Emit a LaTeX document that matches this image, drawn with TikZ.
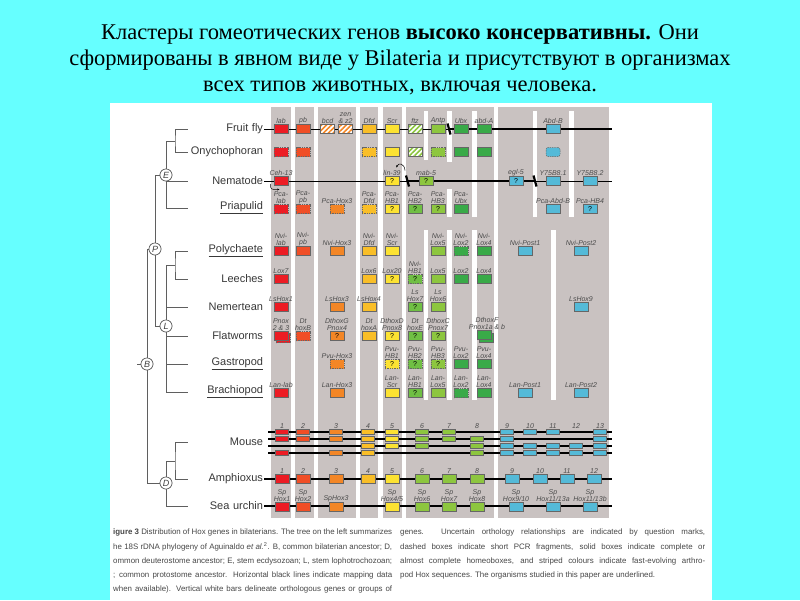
\documentclass[tikz,border=0pt]{standalone}
\usepackage{fontspec}
\setmainfont{Liberation Serif}
\setsansfont{Liberation Sans}
\usetikzlibrary{patterns.meta,arrows.meta}

\definecolor{cyanbg}{RGB}{102,255,255}
\definecolor{panel}{RGB}{201,194,193}
\definecolor{treeg}{RGB}{95,95,95}
\definecolor{hlab}{RGB}{236,28,36}
\definecolor{hpb}{RGB}{240,78,38}
\definecolor{hhox3}{RGB}{243,134,38}
\definecolor{hdfd}{RGB}{249,190,40}
\definecolor{hscr}{RGB}{252,226,50}
\definecolor{hhb}{RGB}{112,191,68}
\definecolor{hantp}{RGB}{141,198,63}
\definecolor{hubx}{RGB}{57,170,72}
\definecolor{hpost}{RGB}{84,186,216}

\begin{document}
\begin{tikzpicture}[
    x=1pt, y=-1pt,
    gbox/.style={draw=black!60, line width=0.5pt, minimum width=14pt,
                 minimum height=9pt, inner sep=0pt,
                 font=\sffamily\fontsize{7}{7}\selectfont},
    pcr/.style={gbox, dash pattern=on 1.4pt off 0.9pt},
    stripebox/.style={gbox, fill=white,
                 postaction={pattern={Lines[angle=45,distance=3.5pt,line width=1.6pt]},
                             pattern color=#1},
                 postaction={draw=black!60, line width=0.5pt}},
    mbox/.style={gbox, minimum width=13pt, minimum height=5pt},
    glab/.style={font=\sffamily\itshape\fontsize{7}{7}\selectfont,
                 align=center, inner sep=0.4pt, text=black!70},
    sp/.style={font=\sffamily\fontsize{11}{11}\selectfont, text=black!78,
               text width=74pt, align=right, inner sep=1pt},
    anc/.style={circle, draw=treeg, fill=white, line width=0.6pt, inner sep=0pt,
                minimum size=12pt, font=\sffamily\itshape\fontsize{9}{9}\selectfont,
                text=black!75},
    tree/.style={draw=treeg, line width=0.8pt},
    chrom/.style={draw=black, line width=0.7pt},
    chromb/.style={draw=black, line width=1.3pt},
    brk/.style={draw=black, line width=2.2pt},
    curv/.style={->, >={Stealth[length=2.2pt,width=2pt]}, line width=0.5pt},
    capt/.style={font=\sffamily\fontsize{7.9}{10}\selectfont, text=black!72,
                 inner sep=0pt, anchor=west}
  ]

  %% ── Canvas ──
  \useasboundingbox (0,0) rectangle (800,600);
  \fill[cyanbg] (0,0) rectangle (800,600);
  \fill[white] (110,103) rectangle (712,600);

  %% ── Title ──
  \node[font=\fontsize{22.5}{26}\selectfont, align=center, inner sep=0pt] (ttl) at (400,60)
    {Кластеры гомеотических генов \textbf{высоко консервативны.} Они\\
     сформированы в явном виде у Bilateria и присутствуют в организмах\\
     всех типов животных, включая человека.};

  %% ── Gray columns ──
  \fill[panel] (271,107) rectangle (290.5,518);
  \fill[panel] (295,107) rectangle (313.5,518);
  \fill[panel] (318,107) rectangle (355.5,518);
  \fill[panel] (360,107) rectangle (378,518);
  \fill[panel] (383,107) rectangle (402,518);
  \fill[panel] (406,107) rectangle (494,518);
  \fill[panel] (498,107) rectangle (609,518);

  % partial white bars
  \fill[white] (424,111) rectangle (428,160);
  \fill[white] (424,230) rectangle (428,400);
  \fill[white] (447,111) rectangle (451.5,162);
  \fill[white] (447,189) rectangle (451.5,217);
  \fill[white] (447,230) rectangle (451.5,400);
  \fill[white] (472,111) rectangle (476.5,217);
  \fill[white] (472,230) rectangle (476.5,400);
  \fill[white] (533,111) rectangle (537,217);
  \fill[white] (569,111) rectangle (573.5,217);
  \fill[white] (551,230) rectangle (555.5,400);

  %% ── Species ──
  \node[sp] (fly) at (226,129) {Fruit fly};
  \node[sp] (ony) at (226,152) {Onychophoran};
  \node[sp] (nem) at (226,181) {Nematode};
  \node[sp] (pri) at (226,208) {\underline{Priapulid}};
  \node[sp] (pol) at (226,251) {\underline{Polychaete}};
  \node[sp] (lee) at (226,279) {Leeches};
  \node[sp] (nmt) at (226,307) {Nemertean};
  \node[sp] (flt) at (226,336) {Flatworms};
  \node[sp] (gas) at (226,364) {\underline{Gastropod}};
  \node[sp] (bra) at (226,392) {\underline{Brachiopod}};
  \node[sp] (mou) at (226,442) {Mouse};
  \node[sp] (amp) at (226,479) {Amphioxus};
  \node[sp] (sea) at (226,506) {Sea urchin};

  %% ── Tree ──
  \node[anc] (E) at (166,175) {E};
  \node[anc] (P) at (155,249) {P};
  \node[anc] (L) at (166,326) {L};
  \node[anc] (B) at (147,364) {B};
  \node[anc] (D) at (166,483) {D};
  \coordinate (jfo) at (175,141);
  \coordinate (e1)  at (166,141);
  \coordinate (jpl) at (175,265);
  \coordinate (l1)  at (166,265);
  \coordinate (jma) at (175,461);
  \coordinate (d1)  at (166,461);
  \coordinate (root) at (137,364);

  \draw[tree] (fly.west) -| (jfo) |- (ony.west);
  \draw[tree] (jfo) -- (e1) |- (pri.west);
  \draw[tree] (nem.west) -- (nem.west -| E);
  \draw[tree] (E) -| (P);
  \draw[tree] (P) |- (L);
  \draw[tree] (pol.west) -| (jpl) |- (lee.west);
  \draw[tree] (jpl) -- (l1) |- (bra.west);
  \draw[tree] (nmt.west) -- (nmt.west -| L);
  \draw[tree] (flt.west) -- (flt.west -| L);
  \draw[tree] (gas.west) -- (gas.west -| L);
  \draw[tree] (P) -| (B);
  \draw[tree] (B) |- (D);
  \draw[tree] (root) -- (B);
  \draw[tree] (mou.west) -| (jma) |- (amp.west);
  \draw[tree] (jma) -- (d1) |- (sea.west);
  \node[anc] at (E) {E};
  \node[anc] at (P) {P};
  \node[anc] at (L) {L};
  \node[anc] at (B) {B};
  \node[anc] at (D) {D};

  %% ── Mapping lines ──
  \coordinate (flyK) at (449,129);
  \coordinate (flyR) at (612,129);
  \coordinate (nemK1) at (408,181);
  \coordinate (nemK2) at (535,181);
  \coordinate (nemR) at (612,181);
  \coordinate (ampR) at (612,479);
  \coordinate (seaR) at (612,506);
  \draw[chrom]  (fly.east) -- (flyK);
  \draw[chromb] (flyK) -- (flyR);
  \draw[chrom]  (nem.east) -- (nemK1);
  \draw[chromb] (nemK1) -- (nemK2);
  \draw[chrom]  (nemK2) -- (nemR);
  \draw[chromb] (amp.east) -- (ampR);
  \draw[chromb] (sea.east) -- (seaR);
  \foreach \r/\yy in {a/432,b/439,c/446,d/453} {
    \coordinate (mL\r) at (268,\yy);
    \coordinate (mR\r) at (612,\yy);
    \draw[chromb] (mL\r) -- (mR\r);
  }

  %% ── Fruit fly ──
  \node[gbox, fill=hlab,  label={[glab]above:lab}]  (fly-lab)  at (281,129) {};
  \node[gbox, fill=hpb,   label={[glab]above:pb}]   (fly-pb)   at (303,129) {};
  \node[stripebox=hhox3,  label={[glab]above:bcd}]  (fly-bcd)  at (327.5,129) {};
  \node[stripebox=hhox3,  label={[glab]above:{zen\\\& z2}}] (fly-zen) at (345.5,129) {};
  \node[gbox, fill=hdfd,  label={[glab]above:Dfd}]  (fly-dfd)  at (369,129) {};
  \node[gbox, fill=hscr,  label={[glab]above:Scr}]  (fly-scr)  at (392,129) {};
  \node[stripebox=hantp,  label={[glab]above:ftz}]  (fly-ftz)  at (415,129) {};
  \node[gbox, fill=hantp, label={[glab]above:Antp}] (fly-antp) at (438,129) {};
  \node[gbox, fill=hubx,  label={[glab]above:Ubx}]  (fly-ubx)  at (461,129) {};
  \node[gbox, fill=hubx,  label={[glab]above:abd-A}] (fly-abda) at (484,129) {};
  \node[gbox, fill=hpost, label={[glab]above:Abd-B}] (fly-abdb) at (553,129) {};

  %% ── Onychophoran ──
  \node[pcr, fill=hlab]   (ony-lab)  at (281,152) {};
  \node[pcr, fill=hpb]    (ony-pb)   at (303,152) {};
  \node[pcr, fill=hdfd]   (ony-dfd)  at (369,152) {};
  \node[gbox, fill=hscr]  (ony-scr)  at (392,152) {};
  \node[stripebox=hantp]  (ony-ftz)  at (415,152) {};
  \node[pcr, fill=hantp]  (ony-antp) at (438,152) {};
  \node[gbox, fill=hubx]  (ony-ubx)  at (461,152) {};
  \node[gbox, fill=hubx]  (ony-abda) at (484,152) {};
  \node[pcr, fill=hpost, rounded corners=2pt] (ony-abdb) at (553,152) {};

  %% ── Nematode ──
  \node[gbox, fill=hlab,  label={[glab]above:Ceh-13}] (nem-ceh) at (281,181) {};
  \node[gbox, fill=hscr,  label={[glab]above:lin-39}] (nem-lin) at (392,181) {?};
  \node[gbox, fill=hantp, label={[glab]above:mab-5}]  (nem-mab) at (426,181) {?};
  \node[gbox, fill=hpost, label={[glab]above:egl-5}]  (nem-egl) at (516,181) {?};
  \node[gbox, fill=hpost, label={[glab]above:Y75B8.1}] (nem-y1) at (553,181) {};
  \node[gbox, fill=hpost, label={[glab]above:Y75B8.2}] (nem-y2) at (590,181) {};
  \coordinate (cehA) at (270.5,184);
  \coordinate (cehB) at (279.5,189.5);
  \draw[curv] (cehA) .. controls (270.5,189.5) .. (cehB);
  \coordinate (linA) at (405,170.5);
  \coordinate (linB) at (396.5,167.5);
  \draw[curv] (linA) .. controls (404.5,163) and (398,162.5) .. (linB);

  %% ── Priapulid ──
  \node[pcr, fill=hlab,   label={[glab]above:{Pca-\\lab}}] (pri-lab) at (281,209) {};
  \node[pcr, fill=hpb,    label={[glab]above:{Pca-\\pb}}]  (pri-pb)  at (303,209) {};
  \node[pcr, fill=hhox3,  label={[glab]above:Pca-Hox3}]    (pri-hox3) at (337,209) {};
  \node[pcr, fill=hdfd,   label={[glab]above:{Pca-\\Dfd}}] (pri-dfd) at (369,209) {};
  \node[gbox, fill=hscr,  label={[glab]above:{Pca-\\HB1}}] (pri-hb1) at (392,209) {?};
  \node[gbox, fill=hhb,   label={[glab]above:{Pca-\\HB2}}] (pri-hb2) at (415,209) {?};
  \node[gbox, fill=hantp, label={[glab]above:{Pca-\\HB3}}] (pri-hb3) at (438,209) {?};
  \node[gbox, fill=hubx,  label={[glab]above:{Pca-\\Ubx}}] (pri-ubx) at (461,209) {};
  \node[gbox, fill=hpost, label={[glab]above:Pca-Abd-B}]   (pri-abdb) at (553,209) {};
  \node[gbox, fill=hpost, label={[glab]above:Pca-HB4}]     (pri-hb4) at (590,209) {?};

  %% ── Polychaete ──
  \node[gbox, fill=hlab,  label={[glab]above:{Nvi-\\lab}}]  (pol-lab)  at (281,251) {};
  \node[gbox, fill=hpb,   label={[glab]above:{Nvi-\\pb}}]   (pol-pb)   at (303,251) {};
  \node[gbox, fill=hhox3, label={[glab]above:Nvi-Hox3}]     (pol-hox3) at (337,251) {};
  \node[gbox, fill=hdfd,  label={[glab]above:{Nvi-\\Dfd}}]  (pol-dfd)  at (369,251) {};
  \node[gbox, fill=hscr,  label={[glab]above:{Nvi-\\Scr}}]  (pol-scr)  at (392,251) {};
  \node[gbox, fill=hantp, label={[glab]above:{Nvi-\\Lox5}}] (pol-lox5) at (438,251) {};
  \node[pcr, fill=hubx,   label={[glab]above:{Nvi-\\Lox2}}] (pol-lox2) at (461,251) {};
  \node[gbox, fill=hubx,  label={[glab]above:{Nvi-\\Lox4}}] (pol-lox4) at (484,251) {};
  \node[gbox, fill=hpost, label={[glab]above:Nvi-Post1}]    (pol-p1)   at (525,251) {};
  \node[gbox, fill=hpost, label={[glab]above:Nvi-Post2}]    (pol-p2)   at (581,251) {};

  %% ── Leeches ──
  \node[gbox, fill=hlab,  label={[glab]above:Lox7}]  (lee-lox7)  at (281,279) {};
  \node[gbox, fill=hdfd,  label={[glab]above:Lox6}]  (lee-lox6)  at (369,279) {};
  \node[gbox, fill=hscr,  label={[glab]above:Lox20}] (lee-lox20) at (392,279) {?};
  \node[pcr, fill=hhb,    label={[glab]above:{Nvi-\\HB1}}] (lee-hb1) at (415,279) {?};
  \node[gbox, fill=hantp, label={[glab]above:Lox5}]  (lee-lox5)  at (438,279) {};
  \node[gbox, fill=hubx,  label={[glab]above:Lox2}]  (lee-lox2)  at (461,279) {};
  \node[gbox, fill=hubx,  label={[glab]above:Lox4}]  (lee-lox4)  at (484,279) {};

  %% ── Nemertean ──
  \node[gbox, fill=hlab,  label={[glab]above:LsHox1}] (nmt-h1) at (281,307) {};
  \node[gbox, fill=hhox3, label={[glab]above:LsHox3}] (nmt-h3) at (337,307) {};
  \node[gbox, fill=hdfd,  label={[glab]above:LsHox4}] (nmt-h4) at (369,307) {};
  \node[gbox, fill=hhb,   label={[glab]above:{Ls\\Hox7}}] (nmt-h7) at (415,307) {?};
  \node[gbox, fill=hantp, label={[glab]above:{Ls\\Hox6}}] (nmt-h6) at (438,307) {};
  \node[gbox, fill=hpost, label={[glab]above:LsHox9}] (nmt-h9) at (581,307) {};

  %% ── Flatworms ──
  \node[pcr, fill=hlab] (flt-p23b) at (283,338) {};
  \node[gbox, fill=hlab,  label={[glab]above:{Pnox\\2 \& 3}}] (flt-p23) at (281,336) {};
  \node[pcr, fill=hpb,    label={[glab]above:{Dt\\hoxB}}]     (flt-hb)  at (303,336) {};
  \node[gbox, fill=hhox3, label={[glab]above:{DthoxG\\Pnox4}}] (flt-hg) at (337,336) {?};
  \node[gbox, fill=hdfd,  label={[glab]above:{Dt\\hoxA}}]     (flt-ha)  at (369,336) {};
  \node[gbox, fill=hscr,  label={[glab]above:{DthoxD\\Pnox8}}] (flt-hd) at (392,336) {?};
  \node[gbox, fill=hhb,   label={[glab]above:{Dt\\hoxE}}]     (flt-he)  at (415,336) {?};
  \node[gbox, fill=hantp, label={[glab]above:{DthoxC\\Pnox7}}] (flt-hc) at (438,336) {?};
  \node[gbox, fill=hubx] (flt-hfb) at (486,338) {};
  \node[gbox, fill=hubx,  label={[glab, xshift=3pt]above:{DthoxF\\Pnox1a \& b}}] (flt-hf) at (484,335) {};

  %% ── Gastropod ──
  \node[pcr, fill=hhox3,  label={[glab]above:Pvu-Hox3}]     (gas-hox3) at (337,364) {};
  \node[pcr, fill=hscr,   label={[glab]above:{Pvu-\\HB1}}]  (gas-hb1)  at (392,364) {?};
  \node[pcr, fill=hhb,    label={[glab]above:{Pvu-\\HB2}}]  (gas-hb2)  at (415,364) {?};
  \node[pcr, fill=hantp,  label={[glab]above:{Pvu-\\HB3}}]  (gas-hb3)  at (438,364) {?};
  \node[gbox, fill=hubx,  label={[glab]above:{Pvu-\\Lox2}}] (gas-lox2) at (461,364) {};
  \node[gbox, fill=hubx,  label={[glab]above:{Pvu-\\Lox4}}] (gas-lox4) at (484,364) {};

  %% ── Brachiopod ──
  \node[gbox, fill=hlab,  label={[glab]above:Lan-lab}]      (bra-lab)  at (281,393) {};
  \node[gbox, fill=hhox3, label={[glab]above:Lan-Hox3}]     (bra-hox3) at (337,393) {};
  \node[gbox, fill=hscr,  label={[glab]above:{Lan-\\Scr}}]  (bra-scr)  at (392,393) {};
  \node[gbox, fill=hhb,   label={[glab]above:{Lan-\\HB1}}]  (bra-hb1)  at (415,393) {?};
  \node[gbox, fill=hantp, label={[glab]above:{Lan-\\Lox5}}] (bra-lox5) at (438,393) {};
  \node[pcr, fill=hubx,   label={[glab]above:{Lan-\\Lox2}}] (bra-lox2) at (461,393) {};
  \node[gbox, fill=hubx,  label={[glab]above:{Lan-\\Lox4}}] (bra-lox4) at (484,393) {};
  \node[gbox, fill=hpost, label={[glab]above:Lan-Post1}]    (bra-p1)   at (525,393) {};
  \node[gbox, fill=hpost, label={[glab]above:Lan-Post2}]    (bra-p2)   at (581,393) {};

  %% ── Mouse ──
  \foreach \n/\x/\col/\rl in {1/282/hlab/{432,439,453}, 2/303/hpb/{432,439},
      3/336/hhox3/{432,439,453}, 4/368/hdfd/{432,439,446,453},
      5/392/hscr/{432,439,446}, 6/422/hantp/{432,439,446}, 7/449/hantp/{432,439},
      8/477/hantp/{439,446,453}, 9/507/hpost/{432,439,446,453},
      10/530/hpost/{432,446,453}, 11/553/hpost/{432,446,453},
      12/576/hpost/{446,453}, 13/600/hpost/{432,439,446,453}} {
    \node[glab, anchor=south] (mn\n) at (\x,429) {\n};
    \foreach \yy in \rl {
      \node[mbox, fill=\col] (m\n-\yy) at (\x,\yy) {};
    }
  }

  %% ── Amphioxus ──
  \foreach \n/\x/\col in {1/282/hlab, 2/303/hpb, 3/336/hhox3, 4/368/hdfd,
      5/392/hscr, 6/422/hantp, 7/449/hantp, 8/477/hantp,
      9/512/hpost, 10/540/hpost, 11/567/hpost, 12/594/hpost} {
    \node[gbox, fill=\col, label={[glab]above:\n}] (a\n) at (\x,479) {};
  }

  %% ── Sea urchin ──
  \node[gbox, fill=hlab,  label={[glab]above:{Sp\\Hox1}}]    (s1)  at (282,507) {};
  \node[gbox, fill=hpb,   label={[glab]above:{Sp\\Hox2}}]    (s2)  at (303,507) {};
  \node[gbox, fill=hhox3, label={[glab]above:SpHox3}]        (s3)  at (336,507) {};
  \node[gbox, fill=hscr,  label={[glab]above:{Sp\\Hox4/5}}]  (s45) at (392,507) {};
  \node[gbox, fill=hantp, label={[glab]above:{Sp\\Hox6}}]    (s6)  at (422,507) {};
  \node[gbox, fill=hantp, label={[glab]above:{Sp\\Hox7}}]    (s7)  at (449,507) {};
  \node[gbox, fill=hantp, label={[glab]above:{Sp\\Hox8}}]    (s8)  at (477,507) {};
  \node[gbox, fill=hpost, label={[glab]above:{Sp\\Hox9/10}}] (s910) at (516,507) {};
  \node[gbox, fill=hpost, label={[glab]above:{Sp\\Hox11/13a}}] (s11a) at (553,507) {};
  \node[gbox, fill=hpost, label={[glab]above:{Sp\\Hox11/13b}}] (s11b) at (590,507) {};

  %% ── Breaks ──
  \draw[brk] (447.5,123.5) -- (450.5,134.5);
  \draw[brk] (406,175.5) -- (409,186.5);
  \draw[brk] (533.5,175.5) -- (536.5,186.5);

  %% ── Caption ──
  \node[capt] (cap1) at (113,532) {\makebox[279pt][s]{\textbf{igure 3} Distribution of Hox genes in bilaterians. The tree on the left summarizes}};
  \node[capt] (cap2) at (113,547) {\makebox[279pt][s]{he 18S rDNA phylogeny of Aguinaldo \textit{et al.}\textsuperscript{2}. B, common bilaterian ancestor; D,}};
  \node[capt] (cap3) at (113,561) {\makebox[279pt][s]{ommon deuterostome ancestor; E, stem ecdysozoan; L, stem lophotrochozoan;}};
  \node[capt] (cap4) at (113,575) {\makebox[279pt][s]{; common protostome ancestor. Horizontal black lines indicate mapping data}};
  \node[capt] (cap5) at (113,589) {\makebox[279pt][s]{when available). Vertical white bars delineate orthologous genes or groups of}};
  \node[capt] (cap6) at (400,532) {\makebox[305pt][s]{genes. Uncertain orthology relationships are indicated by question marks,}};
  \node[capt] (cap7) at (400,547) {\makebox[305pt][s]{dashed boxes indicate short PCR fragments, solid boxes indicate complete or}};
  \node[capt] (cap8) at (400,561) {\makebox[305pt][s]{almost complete homeoboxes, and striped colours indicate fast-evolving arthro-}};
  \node[capt] (cap9) at (400,575) {pod Hox sequences. The organisms studied in this paper are underlined.};

\end{tikzpicture}
\end{document}
